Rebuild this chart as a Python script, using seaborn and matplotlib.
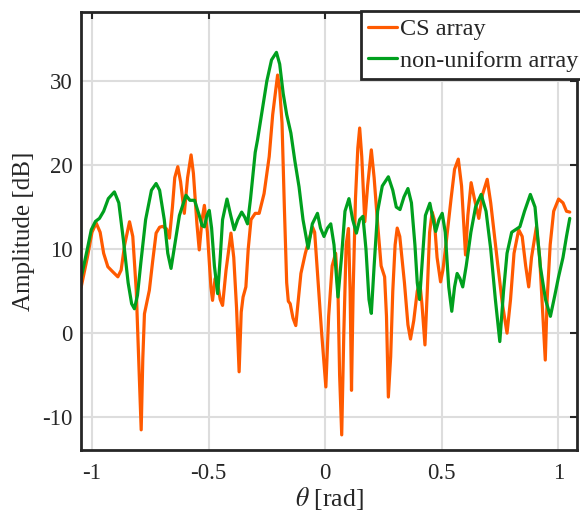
import matplotlib
matplotlib.use("Agg")
import matplotlib.pyplot as plt
import seaborn as sns
import pandas as pd

# ---- data ----
cs_theta = [-1.047, -1.02, -1.00, -0.982, -0.965, -0.95, -0.932, -0.911, -0.889, -0.875, -0.86, -0.839,
            -0.825, -0.81, -0.80, -0.789, -0.782, -0.775, -0.754, -0.74, -0.725, -0.710, -0.697, -0.68,
            -0.668, -0.655, -0.645, -0.632, -0.62, -0.604, -0.59, -0.575, -0.565, -0.55, -0.540, -0.528,
            -0.518, -0.505, -0.490, -0.483, -0.472, -0.462, -0.450, -0.440, -0.425, -0.404, -0.392, -0.380,
            -0.369, -0.360, -0.352, -0.340, -0.330, -0.318, -0.30, -0.283, -0.262, -0.240, -0.225, -0.204,
            -0.195, -0.185, -0.175, -0.165, -0.158, -0.150, -0.138, -0.126, -0.115, -0.104, -0.085, -0.070,
            -0.054, -0.045, -0.030, -0.015, 0.003, 0.015, 0.030, 0.045, 0.055, 0.062, 0.071, 0.080,
            0.090, 0.100, 0.107, 0.113, 0.120, 0.130, 0.140, 0.148, 0.157, 0.170, 0.182, 0.198,
            0.210, 0.225, 0.240, 0.255, 0.263, 0.271, 0.281, 0.290, 0.300, 0.309, 0.320, 0.340,
            0.355, 0.366, 0.380, 0.395, 0.406, 0.415, 0.428, 0.438, 0.448, 0.459, 0.468, 0.480,
            0.495, 0.505, 0.520, 0.540, 0.555, 0.571, 0.585, 0.602, 0.612, 0.626, 0.640, 0.659,
            0.675, 0.695, 0.710, 0.738, 0.760, 0.780, 0.795, 0.810, 0.830, 0.845, 0.860, 0.873,
            0.885, 0.906, 0.920, 0.932, 0.944, 0.952, 0.965, 0.980, 1.001, 1.020, 1.035, 1.049]
cs_amp = [5.4, 9.0, 12.0, 13.1, 12.0, 9.5, 7.9, 7.3, 6.7, 7.5, 10.5, 13.25,
          11.5, 5.0, -3.0, -11.5, -3.0, 2.3, 5.1, 8.5, 11.9, 12.6, 12.7, 12.4,
          11.3, 15.0, 18.5, 19.8, 18.0, 14.25, 18.5, 21.2, 19.0, 13.0, 9.9, 13.5,
          15.2, 12.0, 5.5, 3.9, 6.5, 6.0, 4.0, 3.3, 7.5, 11.9, 9.0, 3.0,
          -4.6, 2.5, 4.3, 5.5, 10.0, 13.5, 14.25, 14.25, 16.6, 21.0, 26.0, 30.7,
          29.0, 25.0, 15.0, 6.0, 3.8, 3.5, 1.8, 0.9, 4.0, 7.1, 9.5, 11.0,
          12.6, 12.0, 6.0, 0.0, -6.4, 2.0, 8.0, 9.5, 5.0, -5.0, -12.1, 0.0,
          10.5, 12.45, 5.0, -6.8, 5.0, 16.0, 22.0, 24.4, 21.0, 13.25, 17.5, 21.8,
          18.5, 13.0, 8.0, 6.7, 2.0, -7.6, -2.8, 5.0, 10.5, 12.5, 11.5, 6.0,
          1.0, -0.7, 1.5, 5.0, 6.0, 3.5, -1.4, 5.0, 12.0, 14.4, 13.5, 9.0,
          6.1, 7.5, 11.0, 16.0, 19.5, 20.7, 17.5, 9.3, 14.0, 17.9, 16.0, 13.65,
          16.5, 18.3, 15.5, 8.7, 3.5, 0.0, 4.0, 9.5, 12.3, 11.5, 8.0, 5.5,
          9.0, 12.65, 9.0, 3.0, -3.2, 4.0, 10.5, 14.5, 15.95, 15.5, 14.5, 14.4]

nu_theta = [-1.047, -1.02, -1.003, -0.985, -0.968, -0.950, -0.930, -0.904, -0.885, -0.865, -0.845, -0.830,
            -0.818, -0.805, -0.790, -0.770, -0.745, -0.725, -0.710, -0.690, -0.675, -0.661, -0.645, -0.625,
            -0.597, -0.580, -0.560, -0.540, -0.528, -0.518, -0.507, -0.497, -0.487, -0.475, -0.461, -0.450,
            -0.440, -0.421, -0.405, -0.390, -0.375, -0.358, -0.345, -0.333, -0.320, -0.300, -0.290, -0.270,
            -0.250, -0.230, -0.209, -0.195, -0.180, -0.165, -0.147, -0.130, -0.112, -0.095, -0.073, -0.055,
            -0.033, -0.020, -0.005, 0.010, 0.024, 0.038, 0.055, 0.070, 0.085, 0.102, 0.118, 0.134,
            0.148, 0.162, 0.175, 0.188, 0.198, 0.210, 0.225, 0.245, 0.271, 0.290, 0.305, 0.321,
            0.338, 0.355, 0.370, 0.385, 0.395, 0.405, 0.415, 0.430, 0.449, 0.463, 0.474, 0.488,
            0.502, 0.515, 0.530, 0.543, 0.555, 0.566, 0.578, 0.590, 0.605, 0.625, 0.645, 0.669,
            0.690, 0.710, 0.730, 0.749, 0.765, 0.780, 0.800, 0.816, 0.835, 0.855, 0.880, 0.900,
            0.923, 0.945, 0.966, 0.985, 1.001, 1.020, 1.035, 1.049]
nu_amp = [6.5, 10.0, 12.3, 13.3, 13.65, 14.5, 16.0, 16.8, 15.5, 11.0, 6.0, 3.5,
          2.9, 4.5, 8.5, 13.5, 17.0, 17.8, 17.0, 13.5, 9.5, 7.7, 10.5, 14.0,
          16.4, 15.8, 15.8, 14.0, 12.8, 12.65, 14.0, 14.6, 12.5, 8.0, 4.7, 9.0,
          13.5, 15.95, 14.0, 12.3, 13.5, 14.4, 13.8, 13.0, 16.0, 21.5, 23.0, 26.5,
          30.0, 32.5, 33.4, 32.0, 28.5, 26.0, 23.8, 20.5, 17.4, 13.5, 10.1, 13.0,
          14.25, 12.5, 11.5, 12.5, 13.0, 10.5, 4.3, 9.0, 14.5, 16.0, 13.5, 11.9,
          13.5, 13.9, 10.0, 4.0, 2.35, 8.0, 14.5, 17.5, 18.6, 17.0, 15.0, 14.7,
          16.2, 17.2, 15.5, 10.5, 6.0, 4.0, 8.0, 14.0, 15.45, 13.5, 12.1, 13.5,
          14.25, 12.0, 5.5, 2.6, 5.5, 7.1, 6.5, 5.5, 8.0, 12.0, 15.0, 16.5,
          14.5, 10.0, 4.0, -1.0, 5.0, 9.5, 12.0, 12.3, 12.65, 14.5, 16.5, 15.0,
          7.9, 4.0, 2.0, 4.5, 6.7, 9.0, 11.5, 13.65]

series_names = ["CS array", "non-uniform array"]
x_ticks = [-1, -0.5, 0, 0.5, 1]
x_ticklabels = ["-1", "-0.5", "0", "0.5", "1"]
y_ticks = [-10, 0, 10, 20, 30]
y_ticklabels = ["-10", "0", "10", "20", "30"]

df = pd.concat([
    pd.DataFrame({"theta": cs_theta, "amp": cs_amp, "series": series_names[0]}),
    pd.DataFrame({"theta": nu_theta, "amp": nu_amp, "series": series_names[1]}),
], ignore_index=True)

sns.set_style("whitegrid")
plt.rcParams["font.family"] = ["Liberation Serif", "DejaVu Serif"]
plt.rcParams["mathtext.fontset"] = "stix"

fig = plt.figure(figsize=(5.8, 5.15), dpi=100)
ax = fig.add_axes([0.1397, 0.1262, 0.8551, 0.8505])

palette = {series_names[0]: "#FF5A00", series_names[1]: "#00A01E"}
sns.lineplot(data=df, x="theta", y="amp", hue="series", palette=palette,
             estimator=None, sort=False, linewidth=2.3, ax=ax)

ax.set_xlim(-1.047, 1.08)
ax.set_ylim(-13.9, 38.2)
ax.set_xticks(x_ticks)
ax.set_xticklabels(x_ticklabels)
ax.set_yticks(y_ticks)
ax.set_yticklabels(y_ticklabels)
ax.grid(True, color="#DDDDDD", linewidth=1.5)
ax.set_facecolor("white")
for s in ax.spines.values():
    s.set_visible(True)
    s.set_color("#262626")
    s.set_linewidth(2.0)
ax.tick_params(direction="in", length=5, width=1.5, colors="#262626",
               top=True, right=True, labelsize=16.5, labelcolor="#262626", pad=6)
ax.tick_params(axis="x", pad=9)
ax.set_xlabel(r"$\theta$ [rad]", fontsize=18.5, color="#262626", labelpad=1)
ax.set_ylabel("Amplitude [dB]", fontsize=18, color="#262626", labelpad=5)

handles, labels = ax.get_legend_handles_labels()
leg = ax.legend(handles, labels, loc="upper right", bbox_to_anchor=(1.01, 0.9786),
                bbox_transform=fig.transFigure, borderaxespad=0.0, fancybox=False,
                framealpha=1.0, edgecolor="#262626", fontsize=17.5, handlelength=1.2,
                handletextpad=0.12, borderpad=0.3, labelspacing=0.38, title=None)
leg.get_frame().set_linewidth(2.0)

fig.savefig("out.png", dpi=100, facecolor="white")
